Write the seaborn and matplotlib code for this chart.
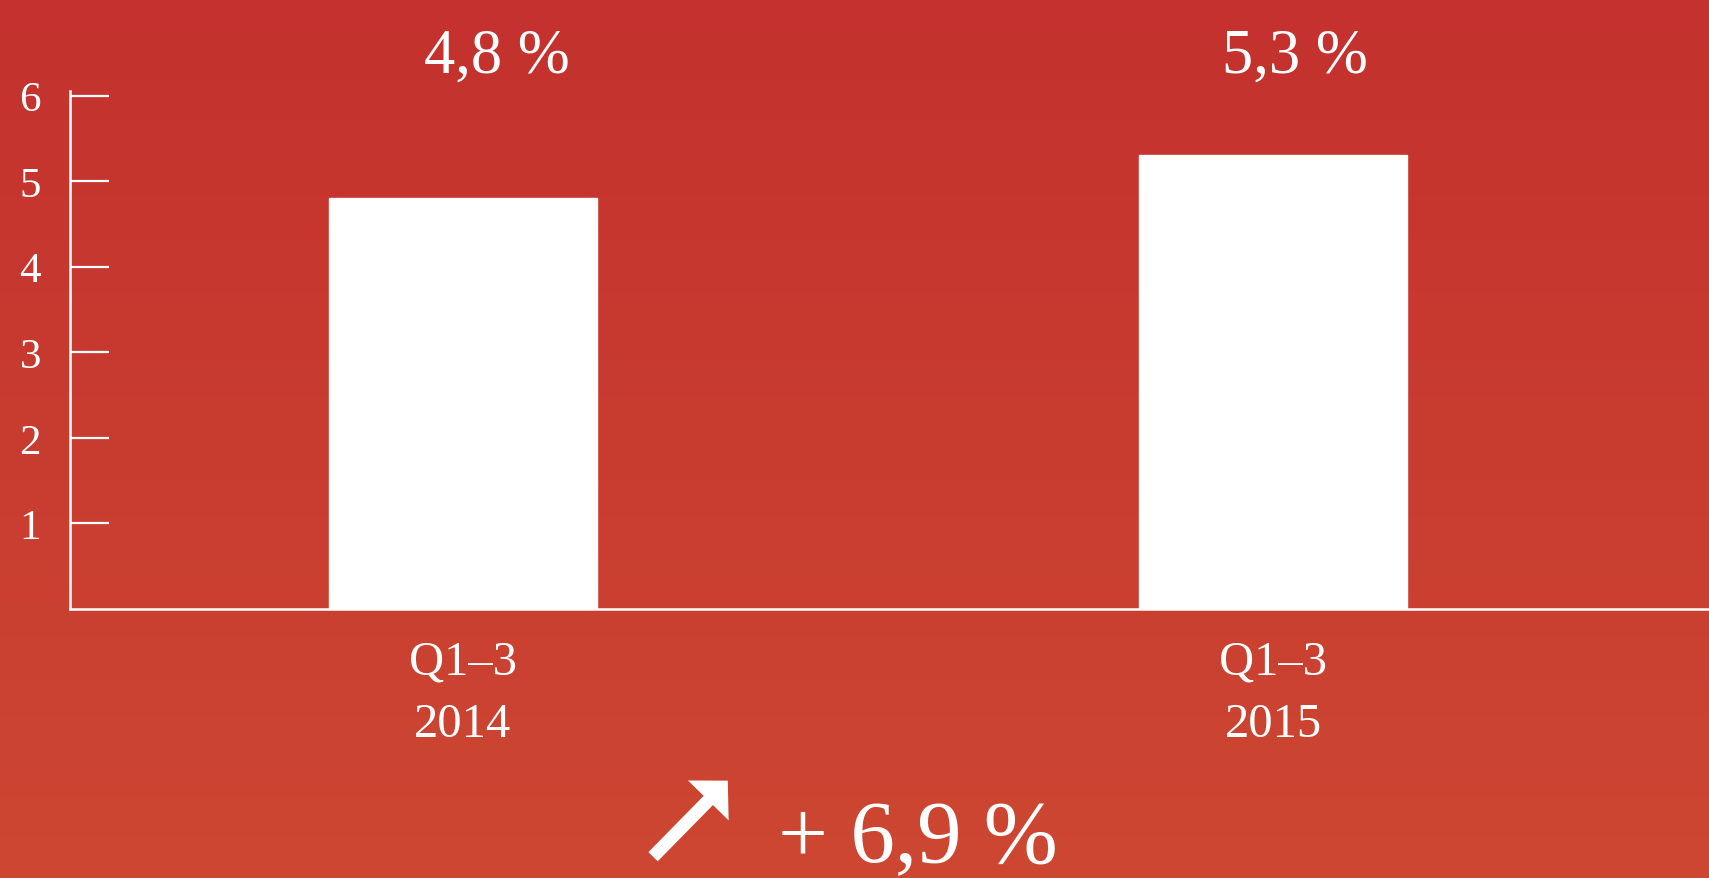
import numpy as np
import matplotlib
matplotlib.use("Agg")
import matplotlib.pyplot as plt
import matplotlib.patches as mpatches
import seaborn as sns

# chart data
periods = ["Q1–3\n2014", "Q1–3\n2015"]
values = [4.8, 5.3]
y_ticks = [1, 2, 3, 4, 5, 6]
change_label = "+ 6,9 %"

top_color = np.array([196, 49, 46]) / 255
bottom_color = np.array([205, 71, 50]) / 255

sns.set_theme(style="ticks")
plt.rcParams["font.family"] = ["Liberation Serif", "DejaVu Serif"]

fig = plt.figure(figsize=(17.09, 8.79), dpi=100)

# red vertical gradient behind everything
bg = fig.add_axes([0, 0, 1, 1], zorder=-1)
grad = np.linspace(0, 1, 256)[:, None, None]
img = top_color * (1 - grad) + bottom_color * grad
bg.imshow(img, aspect="auto", extent=[0, 1, 0, 1])
bg.set_axis_off()

ax = fig.add_axes([0.041, 0.306, 0.959, 0.589])
ax.patch.set_alpha(0)

sns.barplot(x=periods, y=values, color="white", saturation=1,
            width=0.33, ax=ax, zorder=3)

ax.set_xlim(-0.485, 1.538)
ax.set_ylim(0, 6.05)
ax.set_yticks(y_ticks)
ax.set_yticklabels([str(t) for t in y_ticks])
ax.set_xlabel("")
ax.set_ylabel("")

sns.despine(ax=ax, top=True, right=True)
for side in ["left", "bottom"]:
    ax.spines[side].set_color("white")
    ax.spines[side].set_linewidth(1.8)

ax.tick_params(axis="y", direction="in", length=28, width=1.6, color="white",
               labelcolor="white", labelsize=31, pad=21)
ax.tick_params(axis="x", length=0, labelcolor="white", labelsize=35, pad=22)
for lab in ax.get_xticklabels():
    lab.set_linespacing(1.55)

# value labels above the plot
offsets = [0.042, 0.027]
for i, v in enumerate(values):
    txt = f"{v:.1f}".replace(".", ",") + " %"
    ax.text(i + offsets[i], 6.45, txt, ha="center", va="center",
            color="white", fontsize=45, clip_on=False)

# change indicator at the bottom
arrow = mpatches.FancyArrowPatch(
    (0.381, 0.022), (0.427, 0.113), transform=fig.transFigure,
    arrowstyle="simple,head_width=2.05,head_length=1.0,tail_width=0.47",
    mutation_scale=20, color="white", lw=0)
fig.patches.append(arrow)
fig.text(0.537, 0.019, change_label, ha="center", va="baseline",
         color="white", fontsize=64)

fig.savefig("out.png", dpi=100)
